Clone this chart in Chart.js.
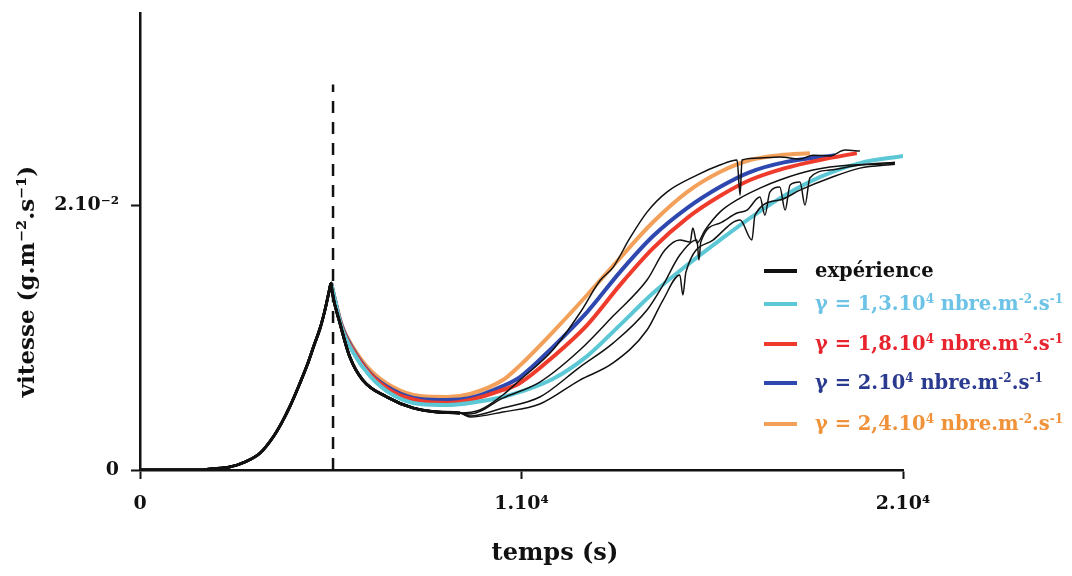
<!DOCTYPE html>
<html>
<head>
<meta charset="utf-8">
<script src="https://cdn.jsdelivr.net/npm/chart.js@4.4.1/dist/chart.umd.min.js"></script>
<style>
  body { margin: 0; background: #fff; overflow: hidden; }
  #wrap { position: relative; width: 1072px; height: 576px; }
  #legend { position: absolute; left: 0; top: 0; width: 1072px; height: 576px; pointer-events: none;
            font-family: "DejaVu Serif", serif; font-weight: bold; font-size: 19.5px; }
  .row { position: absolute; left: 764px; height: 24px; line-height: 24px; white-space: nowrap; }
  .sw { position: absolute; left: 0; top: 10px; width: 33px; height: 4px; }
  .tx { position: absolute; left: 51px; top: 0; }
  sup { font-size: 12px; vertical-align: 7px; line-height: 0; }
</style>
</head>
<body>
<div id="wrap">
  <canvas id="myChart"></canvas>
  <div id="legend"></div>
</div>
<script>
// temps (s) / vitesse (g.m-2.s-1)

// common part of the experiments: rise, peak, decay to the minimum
const expCommon = [[0,0],[1570,0],[1840,0.00008],[2360,0.00023],[2750,0.0006],[3150,0.00128],[3490,0.00249],
  [3720,0.0036],[3930,0.0048],[4170,0.0064],[4380,0.0079],[4560,0.0094],[4720,0.0107],[4850,0.0121],
  [4950,0.0134],[5010,0.01411],[5030,0.01358],[5240,0.01109],[5500,0.00853],[5840,0.00679],[6470,0.00551],
  [7160,0.00468],[7780,0.00438],[8390,0.0043]];

const expA = [[8910,0.00453],[9510,0.00566],[9960,0.00679],[10820,0.00906],[11530,0.01185],[12060,0.0143],
  [12400,0.0153],[12840,0.0175],[13290,0.01947],[13810,0.02098],[14600,0.02226],[15200,0.02302],[15650,0.0234],
  [15730,0.02075],[15780,0.0234],[16250,0.02355],[16770,0.02362],[17300,0.02347],[17640,0.02377],[18080,0.0237],
  [18480,0.02415],[18870,0.02408]];
const expB = [[8650,0.00423],[9510,0.00543],[10480,0.00664],[11530,0.00906],[12400,0.01162],[13290,0.01434],
  [13760,0.0166],[14150,0.01736],[14420,0.01721],[14490,0.01826],[14600,0.01713],[14810,0.01811],[15200,0.01947],
  [15730,0.02053],[16250,0.02128],[16770,0.02189],[17640,0.02264],[18610,0.02302],[19400,0.02309],[19790,0.02317]];
const expC = [[8650,0.00408],[9510,0.00468],[10480,0.00551],[11530,0.00777],[12400,0.00958],[13290,0.01208],
  [13710,0.01396],[14150,0.01623],[14600,0.01736],[14650,0.01585],[14700,0.01721],[15200,0.01864],[15650,0.0194],
  [15910,0.01962],[16250,0.0206],[16380,0.01924],[16510,0.02098],[16770,0.02136],[16910,0.01962],[17040,0.02151],
  [17300,0.02174],[17430,0.02],[17560,0.02204],[18080,0.02264],[18870,0.02302],[19790,0.02324]];
const expD = [[8650,0.004],[9510,0.00438],[10480,0.00498],[11530,0.00679],[12400,0.00808],[13290,0.01057],
  [13710,0.01283],[14150,0.01472],[14230,0.01321],[14310,0.01494],[15020,0.01736],[15730,0.01887],[16040,0.01736],
  [16120,0.01924],[16770,0.02038],[17300,0.02113],[18080,0.02204],[18870,0.02279],[19790,0.02309]];

// model curves, one per gamma
const model13 = [[5010,0.01411],[5110,0.01283],[5290,0.01072],[5580,0.00891],[6030,0.00709],[6630,0.00566],
  [7340,0.00498],[8050,0.00491],[8650,0.00506],[9510,0.00551],[9960,0.00589],[10820,0.00687],[11720,0.0086],
  [12580,0.01094],[13450,0.01336],[14340,0.01547],[15200,0.01736],[15990,0.01902],[16910,0.02075],[17820,0.02211],
  [18870,0.02317],[20000,0.0237]];
const model18 = [[5010,0.01411],[5110,0.01283],[5290,0.01079],[5580,0.00906],[6030,0.00725],[6630,0.00589],
  [7340,0.00521],[8050,0.00506],[8650,0.00528],[9510,0.00604],[9960,0.00657],[10820,0.00853],[11720,0.01094],
  [12580,0.01396],[13450,0.01675],[14340,0.01902],[15200,0.02068],[15990,0.02189],[16910,0.02279],[17820,0.0234],
  [18790,0.02392]];
const model20 = [[5010,0.01411],[5110,0.01283],[5290,0.01087],[5580,0.00913],[6030,0.00732],[6630,0.00604],
  [7340,0.00536],[8050,0.00528],[8650,0.00543],[9510,0.00634],[9960,0.00702],[10820,0.00928],[11720,0.01192],
  [12580,0.01494],[13450,0.01766],[14340,0.01977],[15200,0.02136],[15990,0.02249],[16910,0.02324],[18220,0.02377]];
const model24 = [[5010,0.01411],[5110,0.01283],[5290,0.01094],[5580,0.00928],[6030,0.00755],[6630,0.00626],
  [7340,0.00558],[8050,0.00551],[8650,0.00574],[9510,0.00679],[9960,0.0079],[10820,0.01041],[11720,0.01321],
  [12580,0.016],[13450,0.01872],[14340,0.02098],[15200,0.02249],[15990,0.0234],[16770,0.02377],[17560,0.02392]];

// dashed marker at the peak
const peakLine = [[5060,0],[5060,0.0291]];

const xTicks = [0, 10000, 20000];
const xTickLabels = ['0', '1.10⁴', '2.10⁴'];
const yTicks = [0, 0.02];
const yTickLabels = ['0', '2.10⁻²'];

const legendLabels = ['expérience',
  'γ = 1,3.10<sup>4</sup> nbre.m<sup>-2</sup>.s<sup>-1</sup>',
  'γ = 1,8.10<sup>4</sup> nbre.m<sup>-2</sup>.s<sup>-1</sup>',
  'γ = 2.10<sup>4</sup> nbre.m<sup>-2</sup>.s<sup>-1</sup>',
  'γ = 2,4.10<sup>4</sup> nbre.m<sup>-2</sup>.s<sup>-1</sup>'];
const lineColors = ['#111111', '#5cc8d6', '#ef3b2c', '#2e48b0', '#f3a05a'];
const textColors = ['#111111', '#6cc3e6', '#e8242e', '#2a3a8f', '#f0923a'];
const legendTops = [259, 292, 332, 371, 412];

const FONT = '"DejaVu Serif", serif';

function expSet(tail) {
    return {
        label: 'expérience',
        data: expCommon.concat(tail),
        borderColor: lineColors[0],
        borderWidth: 1.5,
        segment: { borderWidth: c => c.p1.parsed.x <= 8400 ? 2.8 : 1.5 },
        pointRadius: 0,
        cubicInterpolationMode: 'monotone',
    };
}
function modelSet(data, i) {
    return {
        label: legendLabels[i].replace(/<[^>]+>/g, ''),
        data: data,
        borderColor: lineColors[i],
        borderWidth: 4,
        pointRadius: 0,
        cubicInterpolationMode: 'monotone',
    };
}

const data = {
    datasets: [
        expSet(expA), expSet(expB), expSet(expC), expSet(expD),
        modelSet(model13, 1), modelSet(model18, 2), modelSet(model20, 3), modelSet(model24, 4),
        {
            label: 'pic',
            data: peakLine,
            borderColor: '#111111',
            borderWidth: 2.5,
            borderDash: [12, 9],
            pointRadius: 0,
        },
    ],
};

const axisLine = { color: '#111111', width: 2.5 };

const config = {
    type: 'line',
    data,
    options: {
        responsive: true,
        maintainAspectRatio: false,
        animation: false,
        layout: { padding: { top: 13, right: 169, left: 0, bottom: 0 } },
        plugins: { legend: { display: false }, tooltip: { enabled: false } },
        scales: {
            x: {
                type: 'linear',
                min: 0,
                max: 20000,
                afterFit: s => { s.height = 106; },
                afterBuildTicks: s => { s.ticks = xTicks.map(v => ({ value: v })); },
                border: axisLine,
                grid: { drawOnChartArea: false, tickLength: 9, tickWidth: 2, tickColor: '#111111' },
                ticks: {
                    callback: (v, i) => xTickLabels[i],
                    color: '#111111', padding: 14, maxRotation: 0,
                    font: { family: FONT, size: 19, weight: 'bold' },
                },
                title: {
                    display: true,
                    // leading spaces push the centred title right, as in the figure
                    text: '        temps (s)',
                    color: '#111111',
                    padding: { top: 0, bottom: 8 },
                    font: { family: FONT, size: 24, weight: 'bold' },
                },
            },
            y: {
                min: 0,
                max: 0.0345,
                afterFit: s => { s.width = 140; s.paddingTop = 0; },
                afterBuildTicks: s => { s.ticks = yTicks.map(v => ({ value: v })); },
                border: axisLine,
                grid: { drawOnChartArea: false, tickLength: 9, tickWidth: 2, tickColor: '#111111' },
                ticks: {
                    callback: (v, i) => yTickLabels[i],
                    color: '#111111', padding: 12,
                    font: { family: FONT, size: 19, weight: 'bold' },
                },
                title: {
                    display: true,
                    // trailing spaces push the centred title down to where the figure has it
                    text: 'vitesse (g.m⁻².s⁻¹)          ',
                    color: '#111111',
                    padding: { top: 14, bottom: 0 },
                    font: { family: FONT, size: 23, weight: 'bold' },
                },
            },
        },
    },
};

const myChart = new Chart(document.getElementById('myChart'), config);

// legend in html so the exponents can be real superscripts
const leg = document.getElementById('legend');
legendLabels.forEach((txt, i) => {
    const row = document.createElement('div');
    row.className = 'row';
    row.style.top = legendTops[i] + 'px';
    row.innerHTML = '<div class="sw" style="background:' + lineColors[i] + '"></div>' +
        '<div class="tx" style="color:' + textColors[i] + '">' + txt + '</div>';
    leg.appendChild(row);
});
</script>
</body>
</html>
